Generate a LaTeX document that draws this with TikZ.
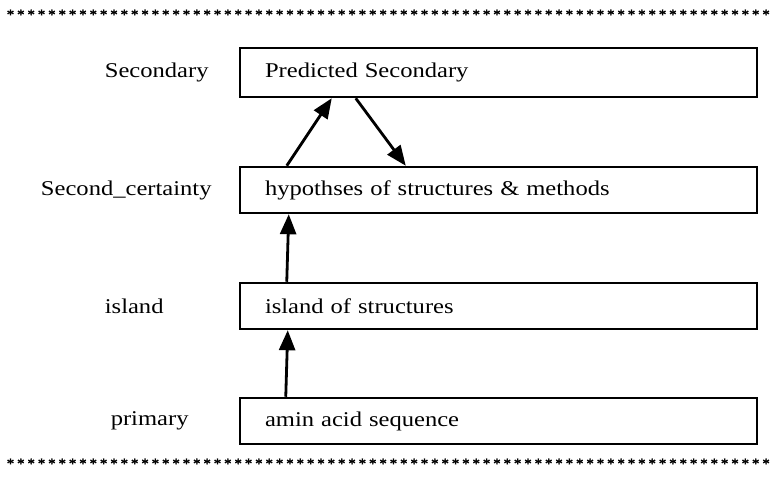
\documentclass[tikz,border=0pt]{standalone}
\usepackage{fontspec}
\setmainfont{Liberation Serif}[FakeStretch=1.17]
\newfontfamily\starfont{Liberation Serif}[FakeBold=1.5]
\usetikzlibrary{arrows.meta}
\begin{document}
\begin{tikzpicture}[x=1pt,y=-1pt,
  level/.style={draw,line width=2.5pt,minimum height=#1,text width=467pt,
    inner xsep=25pt,inner ysep=0pt,align=left,font=\fontsize{21}{24}\selectfont},
  levelname/.style={anchor=east,inner sep=0pt,font=\fontsize{21}{24}\selectfont},
  flow/.style={line width=2.8pt,-{Triangle[length=20pt,width=16pt]}},
  starmark/.style={inner sep=0pt,anchor=north,font=\starfont\fontsize{15}{15}\selectfont}]
\useasboundingbox (0,0) rectangle (775,495);

% rows of asterisks above and below
\foreach \i in {0,...,73} {
  \node[starmark] (st\i) at (10.5+10.35*\i,9.5) {*};
  \node[starmark] (sb\i) at (10.5+10.35*\i,458.5) {*};
}

% level boxes
\node[level=49pt] (b1) at (498.5,72.5) {Predicted Secondary};
\node[level=46pt] (b2) at (498.5,190) {hypothses of structures \& methods};
\node[level=46pt] (b3) at (498.5,306) {island of structures};
\node[level=46pt] (b4) at (498.5,421) {amin acid sequence};

% level names
\node[levelname] (l1) at ([xshift=-30pt]b1.west) {Secondary};
\node[levelname] (l2) at ([xshift=-27pt]b2.west) {Second\_certainty};
\node[levelname] (l3) at ([xshift=-75pt]b3.west) {island};
\node[levelname] (l4) at ([xshift=-50pt]b4.west) {primary};

% connectors
\draw[flow] ([xshift=47pt]b4.north west) -- ([xshift=49pt]b3.south west);
\draw[flow] ([xshift=48pt]b3.north west) -- ([xshift=50pt]b2.south west);
\draw[flow] ([xshift=48pt]b2.north west) -- ([xshift=93pt]b1.south west);
\draw[flow] ([xshift=117pt]b1.south west) -- ([xshift=167pt]b2.north west);
\end{tikzpicture}
\end{document}
